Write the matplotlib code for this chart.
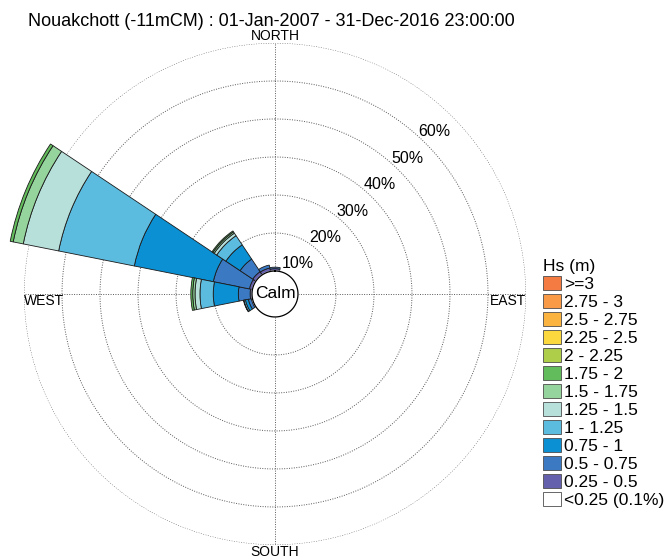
import numpy as np
import matplotlib
matplotlib.use('Agg')
import matplotlib.pyplot as plt
from matplotlib.patches import Patch

plt.rcParams['font.family'] = ['Liberation Sans', 'DejaVu Sans']

# sectors (bearing, degrees from north, clockwise)
sectors = ['N', 'NNE', 'NE', 'ENE', 'E', 'ESE', 'SE', 'SSE',
           'S', 'SSW', 'SW', 'WSW', 'W', 'WNW', 'NW', 'NNW']
bearings = np.arange(0, 360, 22.5)

# frequency (%) per Hs class and sector
hs_025_050 = [0.6, 0, 0, 0, 0, 0, 0, 0, 0, 0, 0, 0.3, 0.5, 0.8, 1.0, 0.9]
hs_050_075 = [0.4, 0, 0, 0, 0, 0, 0, 0, 0, 0, 0, 0.8, 3.1, 9.7, 4.0, 0.8]
hs_075_100 = [0, 0, 0, 0, 0, 0, 0, 0, 0, 0, 0, 0.8, 6.6, 21.2, 4.5, 0]
hs_100_125 = [0, 0, 0, 0, 0, 0, 0, 0, 0, 0, 0, 0.4, 3.5, 20.3, 2.9, 0]
hs_125_150 = [0, 0, 0, 0, 0, 0, 0, 0, 0, 0, 0, 0.1, 1.3, 9.5, 0.8, 0]
hs_150_175 = [0, 0, 0, 0, 0, 0, 0, 0, 0, 0, 0, 0, 0.6, 2.7, 0.4, 0]
hs_175_200 = [0, 0, 0, 0, 0, 0, 0, 0, 0, 0, 0, 0, 0.5, 0.8, 0.3, 0]

classes = ['<0.25 (0.1%)', '0.25 - 0.5', '0.5 - 0.75', '0.75 - 1', '1 - 1.25',
           '1.25 - 1.5', '1.5 - 1.75', '1.75 - 2', '2 - 2.25', '2.25 - 2.5',
           '2.5 - 2.75', '2.75 - 3', '>=3']
colors = ['#ffffff', '#6460ae', '#3b7ac3', '#0b90d4', '#5cbce0', '#b7e0da',
          '#95d49d', '#63bc5b', '#aecd49', '#fcd83f', '#fbb440', '#f89a46', '#f47c43']
ring_levels = [10, 20, 30, 40, 50, 60]

data = [hs_025_050, hs_050_075, hs_075_100, hs_100_125,
        hs_125_150, hs_150_175, hs_175_200]

calm = 23 / 3.8  # radius of calm circle, in % units
rmax = calm + 60

fig = plt.figure(figsize=(6.7, 5.59), dpi=100)
ax = fig.add_axes([0.0358, 0.0251, 0.7493, 0.898], projection='polar')
ax.set_theta_zero_location('N')
ax.set_theta_direction(-1)
ax.set_ylim(0, rmax)
ax.set_axis_off()

# rings and cross lines
tt = np.linspace(0, 2 * np.pi, 400)
for lv in ring_levels:
    ax.plot(tt, np.full_like(tt, calm + lv), color='0.35', lw=0.7,
            ls=(0, (1, 1.5)), zorder=0.5)
for b in [0, 90, 180, 270]:
    ax.plot([np.radians(b)] * 2, [calm, rmax], color='0.35', lw=0.7,
            ls=(0, (1, 1.5)), zorder=0.5)

# stacked sectors
theta = np.radians(bearings)
width = np.radians(22.5)
bottom = np.full(len(bearings), calm)
for vals, col in zip(data, colors[1:]):
    vals = np.array(vals, dtype=float)
    bars = ax.bar(theta, vals, width=width, bottom=bottom, color=col,
                  edgecolor='0.1', linewidth=0.6, zorder=2)
    for p, v in zip(bars, vals):
        p.set_clip_on(False)
        if v == 0:
            p.set_visible(False)
    bottom = bottom + vals

# calm circle
ax.fill(tt, np.full_like(tt, calm), color='white', zorder=3, clip_on=False)
ax.plot(tt, np.full_like(tt, calm), color='black', lw=0.9, zorder=3.5)
ax.text(0, 0, 'Calm', ha='center', va='center', fontsize=12.5, zorder=4)

# ring labels
for lv in ring_levels:
    ax.text(np.radians(46), calm + lv - 1.8, '%d%%' % lv, ha='right', va='top',
            fontsize=11.5, zorder=5)

# cardinal labels
ax.text(0, rmax, 'NORTH', ha='center', va='bottom', fontsize=10)
ax.text(np.radians(180), rmax, 'SOUTH', ha='center', va='top', fontsize=10)
ax.text(np.radians(270), rmax, 'WEST', ha='left', va='top', fontsize=10)
ax.text(np.radians(90), rmax, 'EAST', ha='right', va='top', fontsize=10)

fig.text(28 / 670, 1 - 22 / 559,
         'Nouakchott (-11mCM) : 01-Jan-2007 - 31-Dec-2016 23:00:00',
         ha='left', va='center', fontsize=13)

handles = [Patch(facecolor=c, edgecolor='0.3', linewidth=0.6, label=l)
           for c, l in zip(colors, classes)][::-1]
leg = fig.legend(handles=handles, loc='upper left',
                 bbox_to_anchor=(543 / 670, 1 - 259 / 559),
                 frameon=False, title='Hs (m)', fontsize=12.5, title_fontsize=12.5,
                 handlelength=1.05, handleheight=0.85, handletextpad=0.15,
                 labelspacing=0.12, borderaxespad=0, borderpad=0)
leg._legend_box.align = 'left'

fig.savefig('out.png', dpi=100)
